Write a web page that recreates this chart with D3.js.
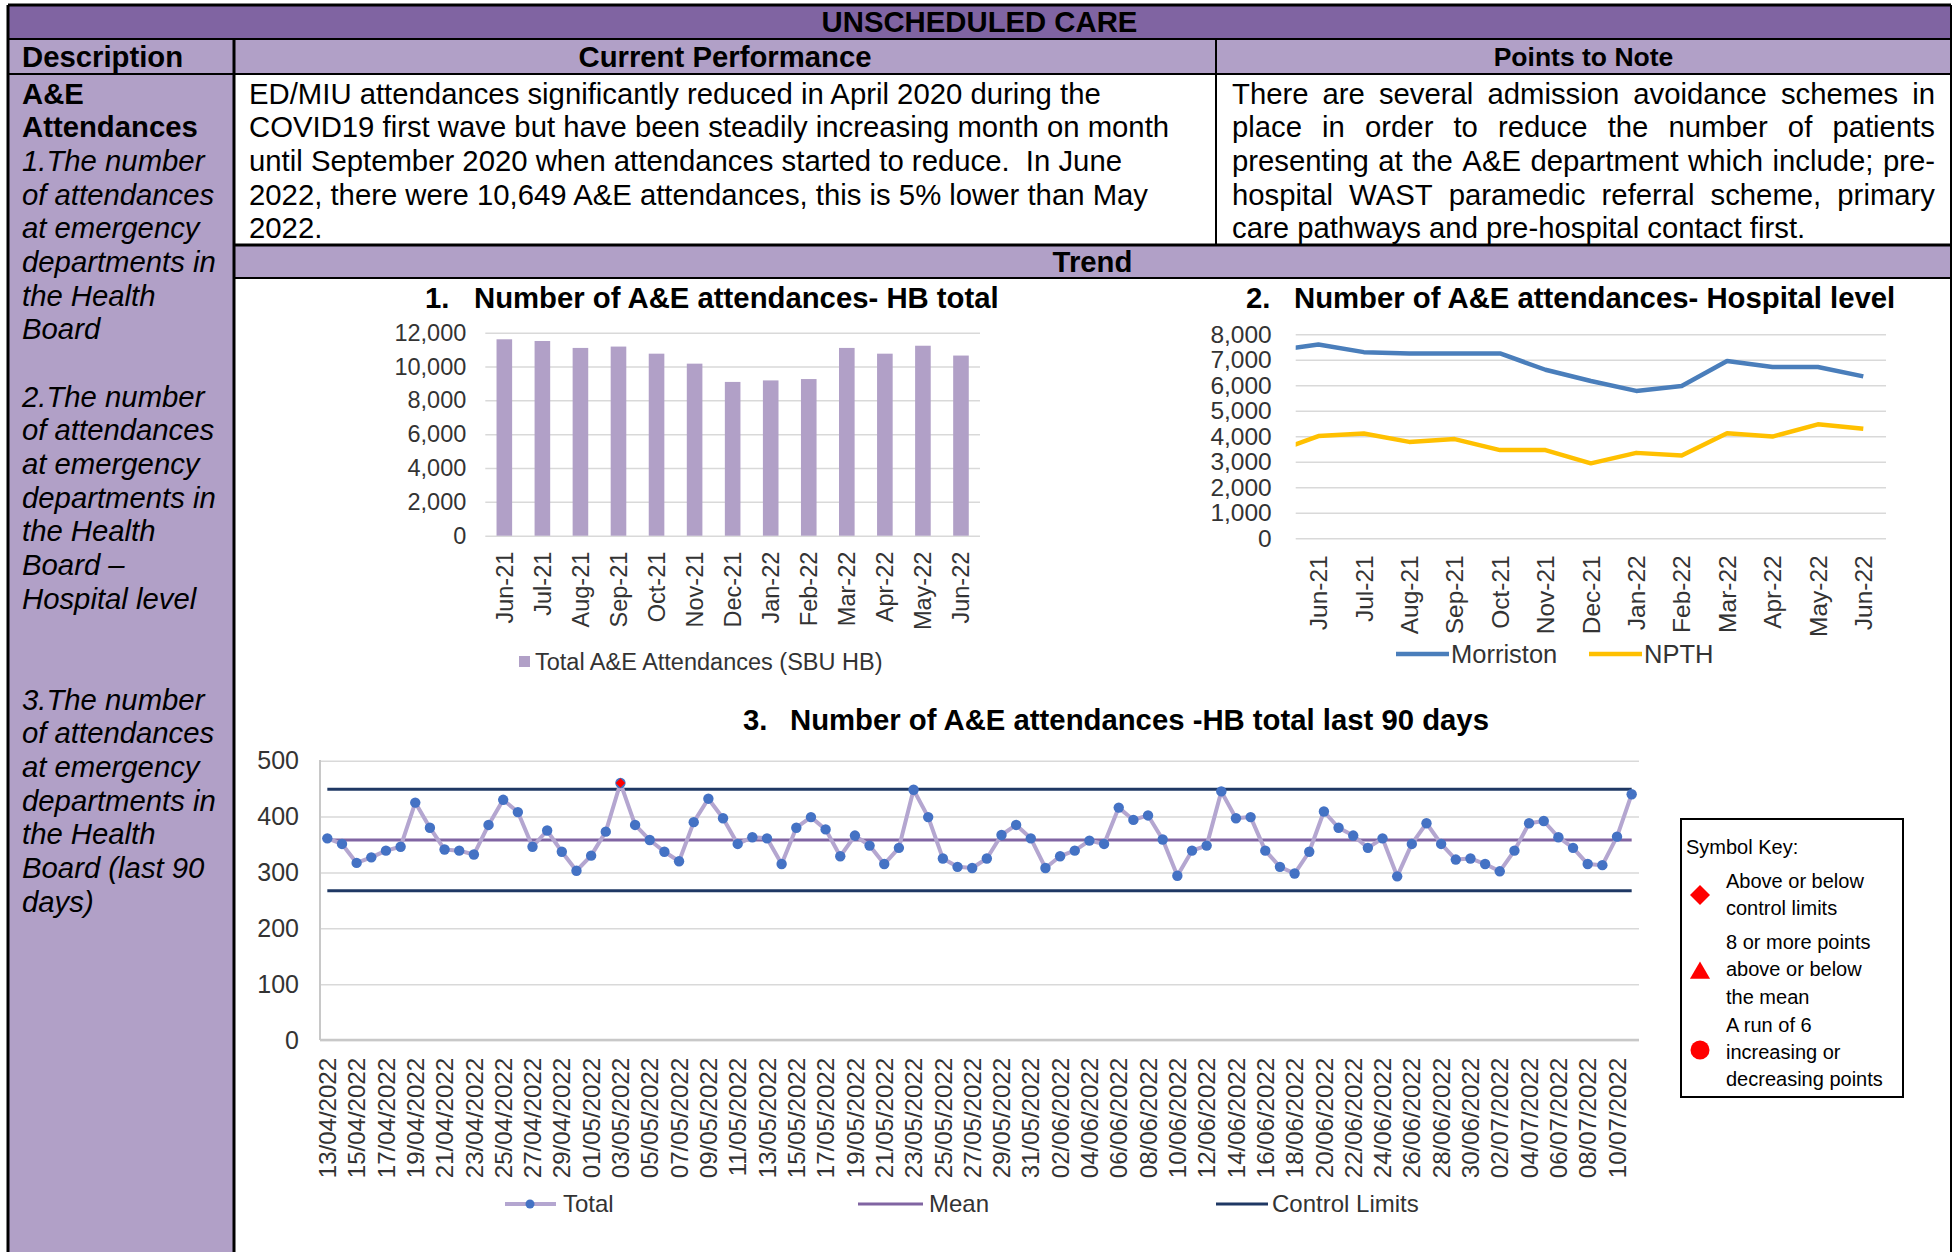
<!DOCTYPE html>
<html>
<head>
<meta charset="utf-8">
<title>Unscheduled care - A&amp;E attendances</title>
<style>
body { margin: 0; background: #fff; }
svg { font-family: "Liberation Sans", Arial, sans-serif; display: block; }
.grid line { stroke: #d9d9d9; stroke-width: 1.5; }
.grid .domain { display: none; }
.grid text { fill: #333; }
.xlab .domain, .xlab line { display: none; }
.xlab text { fill: #333; }
</style>
<script src="https://cdn.jsdelivr.net/npm/d3@7"></script>
</head>
<body>
<svg id="page" width="1955" height="1252"></svg>
<script>

// ---- data ----
var months = ["Jun-21","Jul-21","Aug-21","Sep-21","Oct-21","Nov-21","Dec-21",
              "Jan-22","Feb-22","Mar-22","Apr-22","May-22","Jun-22"];
var hbTotal = [11610, 11510, 11100, 11180, 10760, 10170, 9090, 9180, 9260, 11100, 10760, 11230, 10649];

var morriston = [7600, 7300, 7250, 7250, 7250, 6610, 6170, 5780, 5970, 6950, 6720, 6720, 6350];
var npth      = [4010, 4110, 3780, 3890, 3460, 3460, 2940, 3350, 3250, 4120, 3990, 4470, 4300];
// month before the first label, only partly visible at the left edge
var morristonPrior = [7360];
var npthPrior      = [3350];

var spcDates = [
 "13/04/2022","14/04/2022","15/04/2022","16/04/2022","17/04/2022","18/04/2022","19/04/2022","20/04/2022","21/04/2022","22/04/2022",
 "23/04/2022","24/04/2022","25/04/2022","26/04/2022","27/04/2022","28/04/2022","29/04/2022","30/04/2022","01/05/2022","02/05/2022",
 "03/05/2022","04/05/2022","05/05/2022","06/05/2022","07/05/2022","08/05/2022","09/05/2022","10/05/2022","11/05/2022","12/05/2022",
 "13/05/2022","14/05/2022","15/05/2022","16/05/2022","17/05/2022","18/05/2022","19/05/2022","20/05/2022","21/05/2022","22/05/2022",
 "23/05/2022","24/05/2022","25/05/2022","26/05/2022","27/05/2022","28/05/2022","29/05/2022","30/05/2022","31/05/2022","01/06/2022",
 "02/06/2022","03/06/2022","04/06/2022","05/06/2022","06/06/2022","07/06/2022","08/06/2022","09/06/2022","10/06/2022","11/06/2022",
 "12/06/2022","13/06/2022","14/06/2022","15/06/2022","16/06/2022","17/06/2022","18/06/2022","19/06/2022","20/06/2022","21/06/2022",
 "22/06/2022","23/06/2022","24/06/2022","25/06/2022","26/06/2022","27/06/2022","28/06/2022","29/06/2022","30/06/2022","01/07/2022",
 "02/07/2022","03/07/2022","04/07/2022","05/07/2022","06/07/2022","07/07/2022","08/07/2022","09/07/2022","10/07/2022","11/07/2022"];
var spcTotal = [
 361, 351, 317, 327, 339, 346, 425, 380, 341, 339,
 332, 385, 430, 408, 346, 375, 337, 303, 330, 373,
 460, 385, 358, 337, 320, 390, 432, 397, 351, 363,
 361, 315, 380, 399, 377, 329, 366, 348, 315, 344,
 448, 399, 325, 310, 308, 325, 367, 385, 361, 308,
 329, 339, 357, 351, 416, 394, 402, 359, 294, 339,
 348, 445, 397, 399, 339, 310, 298, 337, 409, 380,
 366, 344, 361, 293, 351, 388, 351, 323, 325, 315,
 302, 339, 388, 392, 363, 344, 315, 313, 364, 440];
var spcMean = 358, spcUcl = 449, spcLcl = 267;

var barTicks  = [0, 2000, 4000, 6000, 8000, 10000, 12000];
var lineTicks = [0, 1000, 2000, 3000, 4000, 5000, 6000, 7000, 8000];
var spcTicks  = [0, 100, 200, 300, 400, 500];

var descLines = [
 {t: "A&E", b: true}, {t: "Attendances", b: true},
 {t: "1.The number"}, {t: "of attendances"}, {t: "at emergency"}, {t: "departments in"}, {t: "the Health"}, {t: "Board"},
 {t: ""},
 {t: "2.The number"}, {t: "of attendances"}, {t: "at emergency"}, {t: "departments in"}, {t: "the Health"}, {t: "Board \u2013"}, {t: "Hospital level"},
 {t: ""}, {t: ""},
 {t: "3.The number"}, {t: "of attendances"}, {t: "at emergency"}, {t: "departments in"}, {t: "the Health"}, {t: "Board (last 90"}, {t: "days)"}];

var perfLines = [
 "ED/MIU attendances significantly reduced in April 2020 during the",
 "COVID19 first wave but have been steadily increasing month on month",
 "until September 2020 when attendances started to reduce.\u00a0 In June",
 "2022, there were 10,649 A&E attendances, this is 5% lower than May",
 "2022."];

var noteLines = [
 "There are several admission avoidance schemes in",
 "place in order to reduce the number of patients",
 "presenting at the A&E department which include; pre-",
 "hospital WAST paramedic referral scheme, primary",
 "care pathways and pre-hospital contact first."];

var keyLines = ["Above or below", "control limits", "8 or more points", "above or below",
                "the mean", "A run of 6", "increasing or", "decreasing points"];

// ---- page / table ----
var svg = d3.select("#page");
var dark = "#8064a2", lilac = "#b1a0c7";
var X0 = 8, X1 = 1951, C1 = 234, C2 = 1216;
var R0 = 5, R1 = 39, R2 = 74, R3 = 245, R4 = 278, H = 1252;
var fs = 29.3, lh = 33.66;

function box(x, y, w, h, fill) {
  svg.append("rect").attr("x", x).attr("y", y).attr("width", w).attr("height", h).attr("fill", fill);
}
box(X0, R0, X1 - X0, R1 - R0, dark);
box(X0, R1, X1 - X0, R2 - R1, lilac);
box(X0, R2, C1 - X0, H - R2, lilac);
box(C1, R3, X1 - C1, R4 - R3, lilac);

function hline(y, xa, xb, w) {
  svg.append("line").attr("x1", xa).attr("x2", xb).attr("y1", y).attr("y2", y)
    .attr("stroke", "#000").attr("stroke-width", w || 2);
}
function vline(x, ya, yb, w) {
  svg.append("line").attr("x1", x).attr("x2", x).attr("y1", ya).attr("y2", yb)
    .attr("stroke", "#000").attr("stroke-width", w || 2);
}
hline(R0, X0, X1, 3);
hline(R1, X0, X1);
hline(R2, X0, X1);
hline(R3, C1, X1, 3);
hline(R4, C1, X1);
vline(X0, R0, H, 3);
vline(X1, R0, H, 2);
vline(C1, R1, H, 3);
vline(C2, R1, R3, 2);

function label(x, y, txt, o) {
  o = o || {};
  return svg.append("text").attr("x", x).attr("y", y).attr("dy", "0.35em")
    .attr("font-size", o.size || fs)
    .attr("font-weight", o.bold ? "bold" : null)
    .attr("font-style", o.italic ? "italic" : null)
    .attr("text-anchor", o.anchor || "start")
    .attr("fill", o.fill || "#000")
    .text(txt);
}

label((X0 + X1) / 2, 22, "UNSCHEDULED CARE", {bold: true, anchor: "middle"});
label(22, 57, "Description", {bold: true});
label((C1 + C2) / 2, 57, "Current Performance", {bold: true, anchor: "middle"});
label((C2 + X1) / 2, 57, "Points to Note", {bold: true, anchor: "middle", size: 26.5});
label((C1 + X1) / 2, 262, "Trend", {bold: true, anchor: "middle"});

var top0 = 93.5;
descLines.forEach(function(d, i) {
  label(22, top0 + i * lh, d.t, {bold: d.b, italic: !d.b});
});
perfLines.forEach(function(t, i) { label(249, top0 + i * lh, t); });

// justified note column
var measurer = svg.append("text").attr("font-size", fs).attr("visibility", "hidden");
function wordWidth(w) { measurer.text(w); return measurer.node().getComputedTextLength(); }
var noteX = 1232, noteW = 1935 - 1232;
noteLines.forEach(function(line, i) {
  var y = top0 + i * lh;
  if (i === noteLines.length - 1) { label(noteX, y, line); return; }
  var words = line.split(" ");
  var ws = words.map(wordWidth);
  var gap = (noteW - d3.sum(ws)) / (words.length - 1);
  var cx = noteX;
  words.forEach(function(w, j) { label(cx, y, w); cx += ws[j] + gap; });
});
measurer.remove();

// ---- chart 1: bars ----
var tickFs = 23.5;
label(425, 298, "1.", {bold: true});
label(474, 298, "Number of A&E attendances- HB total", {bold: true});

var bx = d3.scaleBand().domain(months).range([485.3, 980]).paddingInner(0.59).paddingOuter(0.295);
var by = d3.scaleLinear().domain([0, 12000]).range([535.7, 332.7]);

svg.append("g").attr("class", "grid").attr("transform", "translate(485.3,0)")
  .call(d3.axisLeft(by).tickValues(barTicks).tickSize(-(980 - 485.3)).tickPadding(19)
    .tickFormat(d3.format(",")))
  .call(function(g) { g.selectAll("text").attr("font-size", tickFs).attr("font-family", null); });

svg.append("g").selectAll("rect").data(hbTotal).join("rect")
  .attr("x", function(d, i) { return bx(months[i]); })
  .attr("width", bx.bandwidth())
  .attr("y", function(d) { return by(d); })
  .attr("height", function(d) { return by(0) - by(d); })
  .attr("fill", lilac);

function rotatedAxis(scale, y, off, size, values) {
  var ax = d3.axisBottom(scale).tickSize(0);
  if (values) ax.tickValues(values);
  svg.append("g").attr("class", "xlab").attr("transform", "translate(0," + y + ")")
    .call(ax)
    .call(function(g) {
      g.selectAll("text").attr("font-size", size).attr("font-family", null)
        .attr("transform", "rotate(-90)").attr("text-anchor", "end")
        .attr("x", -off).attr("y", 0).attr("dy", "0.36em");
    });
}
rotatedAxis(bx, 535.7, 16, tickFs);

svg.append("rect").attr("x", 519).attr("y", 656).attr("width", 11).attr("height", 11).attr("fill", lilac);
label(535, 662, "Total A&E Attendances (SBU HB)", {size: tickFs, fill: "#333"});

// ---- chart 2: hospital lines ----
var lineFs = 24.5;
label(1246, 298, "2.", {bold: true});
label(1294, 298, "Number of A&E attendances- Hospital level", {bold: true});

var lx = d3.scaleBand().domain(months).range([1295.7, 1886]);
var ly = d3.scaleLinear().domain([0, 8000]).range([538.3, 334.3]);
var lcx = function(i) { return lx(months[0]) + lx.bandwidth() * (i + 0.5); };

svg.append("g").attr("class", "grid").attr("transform", "translate(1295.7,0)")
  .call(d3.axisLeft(ly).tickValues(lineTicks).tickSize(-(1886 - 1295.7)).tickPadding(24)
    .tickFormat(d3.format(",")))
  .call(function(g) { g.selectAll("text").attr("font-size", lineFs).attr("font-family", null); });

svg.append("clipPath").attr("id", "lineClip").append("rect")
  .attr("x", 1295.7).attr("y", 300).attr("width", 1886 - 1295.7).attr("height", 260);

var hospLine = d3.line().x(function(d, i) { return lcx(i - 1); }).y(function(d) { return ly(d); });
var hospitals = [
  {name: "Morriston", vals: morristonPrior.concat(morriston), color: "#4a7ebb"},
  {name: "NPTH", vals: npthPrior.concat(npth), color: "#ffc000"}];
svg.append("g").attr("clip-path", "url(#lineClip)")
  .selectAll("path").data(hospitals).join("path")
  .attr("d", function(d) { return hospLine(d.vals); })
  .attr("fill", "none").attr("stroke", function(d) { return d.color; })
  .attr("stroke-width", 4.5).attr("stroke-linejoin", "round");

rotatedAxis(lx, 538.3, 17, lineFs);

var legX = [1396, 1589];
hospitals.forEach(function(h, i) {
  svg.append("line").attr("x1", legX[i]).attr("x2", legX[i] + 53).attr("y1", 654).attr("y2", 654)
    .attr("stroke", h.color).attr("stroke-width", 4.5);
  label(legX[i] + 55, 654, h.name, {size: 25.5, fill: "#333"});
});

// ---- chart 3: SPC last 90 days ----
label(743, 720, "3.", {bold: true});
label(790, 720, "Number of A&E attendances -HB total last 90 days", {bold: true});

var sx = d3.scaleBand().domain(spcDates).range([320, 1639]);
var sy = d3.scaleLinear().domain([0, 500]).range([1040, 760.7]);
var scx = function(d) { return sx(d) + sx.bandwidth() / 2; };

svg.append("g").attr("class", "grid").attr("transform", "translate(320,0)")
  .call(d3.axisLeft(sy).tickValues(spcTicks).tickSize(-(1639 - 320)).tickPadding(21))
  .call(function(g) {
    g.selectAll("line").attr("stroke", "#eeeeee").attr("stroke-width", 2);
    g.selectAll("text").attr("font-size", 25).attr("font-family", null);
  });
svg.append("line").attr("x1", 320).attr("x2", 320).attr("y1", 760).attr("y2", 1040)
  .attr("stroke", "#c8c8c8").attr("stroke-width", 2);
svg.append("line").attr("x1", 320).attr("x2", 1639).attr("y1", 1040).attr("y2", 1040)
  .attr("stroke", "#c8c8c8").attr("stroke-width", 2.5);

var xa = scx(spcDates[0]), xb = scx(spcDates[spcDates.length - 1]);
[spcUcl, spcLcl].forEach(function(v) {
  svg.append("line").attr("x1", xa).attr("x2", xb).attr("y1", sy(v)).attr("y2", sy(v))
    .attr("stroke", "#1f3864").attr("stroke-width", 3);
});
svg.append("line").attr("x1", xa).attr("x2", xb).attr("y1", sy(spcMean)).attr("y2", sy(spcMean))
  .attr("stroke", "#8064a2").attr("stroke-width", 3);

var spcLine = d3.line().x(function(d, i) { return scx(spcDates[i]); }).y(function(d) { return sy(d); });
svg.append("path").attr("d", spcLine(spcTotal))
  .attr("fill", "none").attr("stroke", "#b4a6d0").attr("stroke-width", 4).attr("stroke-linejoin", "round");
svg.append("g").selectAll("circle").data(spcTotal).join("circle")
  .attr("cx", function(d, i) { return scx(spcDates[i]); })
  .attr("cy", function(d) { return sy(d); })
  .attr("r", 5.2).attr("fill", "#4472c4");

var diamond = d3.symbol().type(d3.symbolSquare);
svg.append("g").selectAll("path")
  .data(spcTotal.map(function(v, i) { return {v: v, i: i}; })
    .filter(function(d) { return d.v > spcUcl || d.v < spcLcl; }))
  .join("path")
  .attr("d", diamond.size(45)())
  .attr("transform", function(d) { return "translate(" + scx(spcDates[d.i]) + "," + sy(d.v) + ") rotate(45)"; })
  .attr("fill", "#ff0000");

rotatedAxis(sx, 1040, 18, 24, spcDates.filter(function(d, i) { return i % 2 === 0; }));

// SPC legend
var ly0 = 1204;
svg.append("line").attr("x1", 505).attr("x2", 556).attr("y1", ly0).attr("y2", ly0)
  .attr("stroke", "#b4a6d0").attr("stroke-width", 4);
svg.append("circle").attr("cx", 530).attr("cy", ly0).attr("r", 4.5).attr("fill", "#4472c4");
label(563, ly0, "Total", {size: 24, fill: "#333"});
svg.append("line").attr("x1", 858).attr("x2", 923).attr("y1", ly0).attr("y2", ly0)
  .attr("stroke", "#8064a2").attr("stroke-width", 3);
label(929, ly0, "Mean", {size: 24, fill: "#333"});
svg.append("line").attr("x1", 1216).attr("x2", 1268).attr("y1", ly0).attr("y2", ly0)
  .attr("stroke", "#1f3864").attr("stroke-width", 3);
label(1272, ly0, "Control Limits", {size: 24, fill: "#333"});

// symbol key
svg.append("rect").attr("x", 1681).attr("y", 819).attr("width", 222).attr("height", 278)
  .attr("fill", "#fff").attr("stroke", "#000").attr("stroke-width", 2);
label(1686, 847, "Symbol Key:", {size: 20});
var keyY = [881, 908, 942, 969, 997, 1025, 1052, 1079];
keyLines.forEach(function(t, i) { label(1726, keyY[i], t, {size: 20}); });
svg.append("path").attr("d", d3.symbol().type(d3.symbolSquare).size(200)())
  .attr("transform", "translate(1700,895) rotate(45)").attr("fill", "#ff0000");
svg.append("path").attr("d", d3.symbol().type(d3.symbolTriangle).size(175)())
  .attr("transform", "translate(1700,973)").attr("fill", "#ff0000");
svg.append("circle").attr("cx", 1700).attr("cy", 1050).attr("r", 9.5).attr("fill", "#ff0000");

</script>
</body>
</html>
